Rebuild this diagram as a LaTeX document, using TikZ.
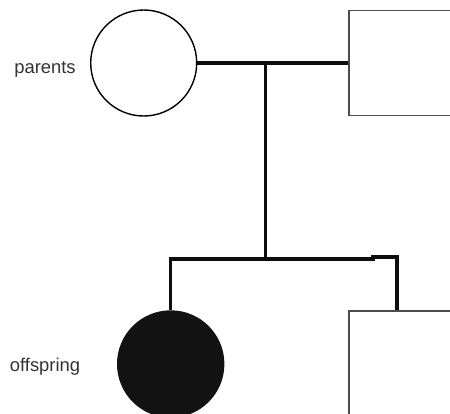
\documentclass[tikz,border=0pt]{standalone}
\usepackage{fontspec}
\setmainfont{Liberation Sans}
\begin{document}
\begin{tikzpicture}[x=1pt,y=-1pt,
  female/.style={circle,draw=black,line width=1.4pt,minimum size=106pt,inner sep=0pt},
  male/.style={rectangle,draw=black!70,line width=1.7pt,minimum size=105pt,inner sep=0pt},
  affected/.style={fill=black!93,draw=black!93},
  link/.style={line width=3.1pt,line join=miter,black!95},
  genlabel/.style={font=\fontsize{18.4}{22}\selectfont,text=black!80,inner sep=0pt}]
\useasboundingbox (0,0) rectangle (450,413);
\clip (0,0) rectangle (450,413);

% generation I
\node[female] (mom) at (143.7,63) {};
\node[male] (dad) at (401.5,63) {};
\node[genlabel] (lblP) at (45,69) {parents};

% generation II
\node[female,affected] (daughter) at (170.7,364) {};
\node[male] (son) at (401.5,363.5) {};
\node[genlabel] (lblO) at (45,367) {offspring};

% mating line, descent line and sibship line
\coordinate (mate) at (265.7,63);
\coordinate (sibM) at (265.7,259);
\coordinate (jog) at (373,259);
\coordinate (sibR) at (397,257);

\draw[link] (mom) -- (dad);
\draw[link] (mate) -- (sibM);
\draw[link] (daughter.north) |- (jog) |- (sibR) -- (sibR |- son.north);
\end{tikzpicture}
\end{document}
